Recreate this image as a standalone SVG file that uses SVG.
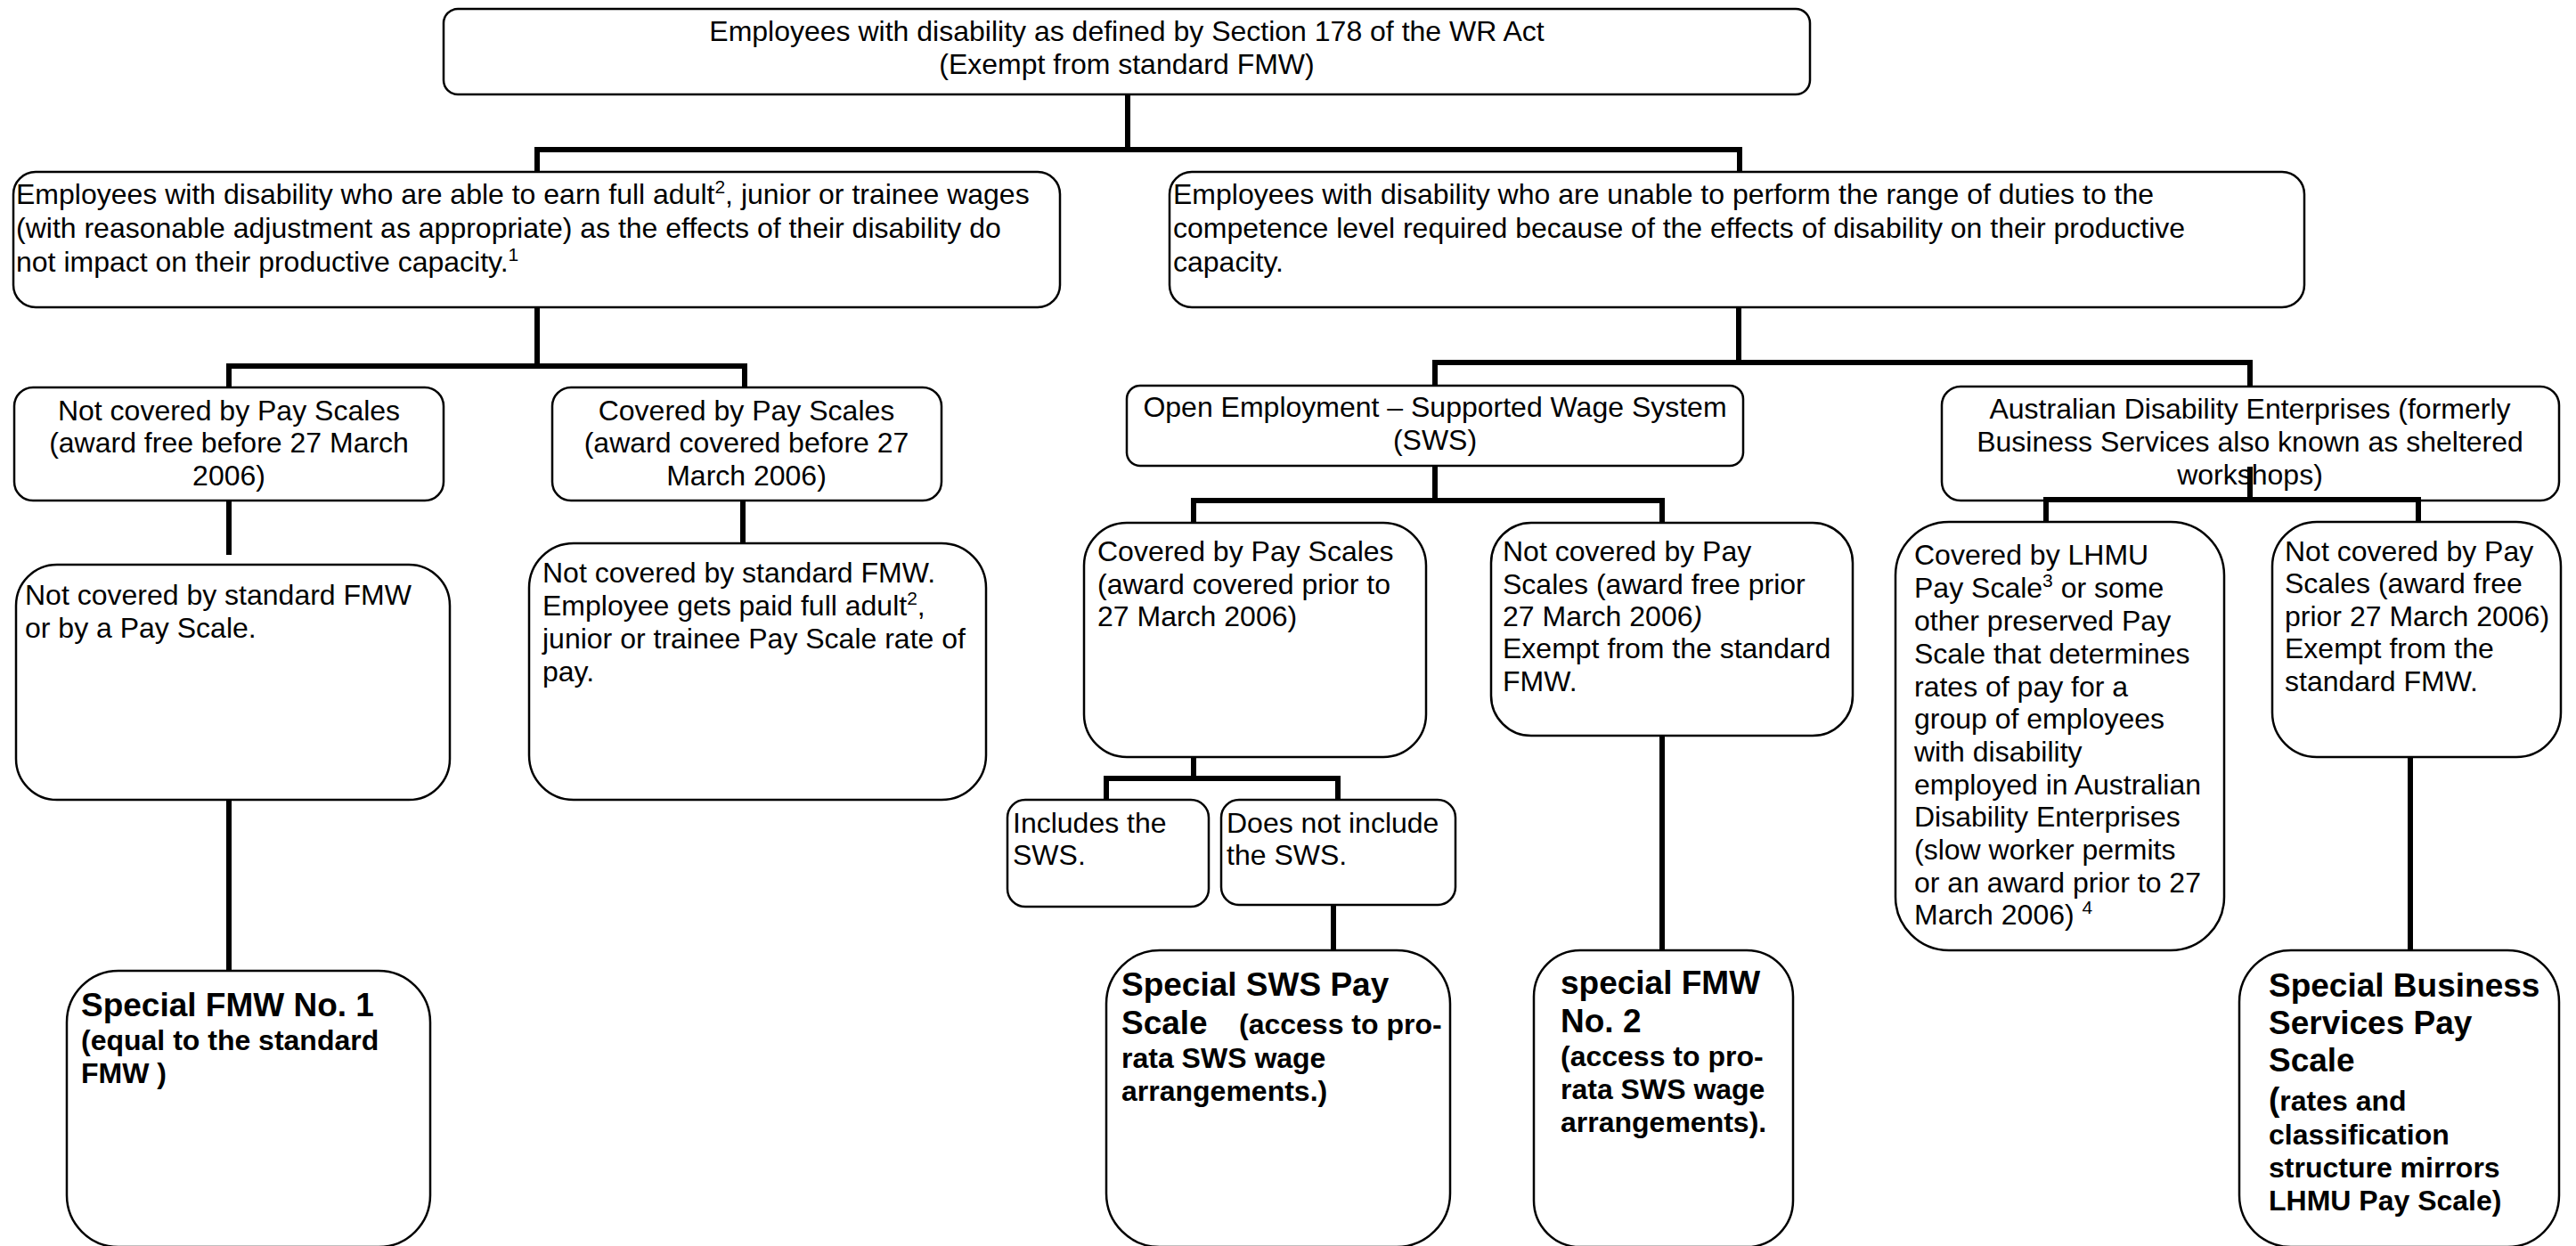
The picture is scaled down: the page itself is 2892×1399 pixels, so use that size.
<svg xmlns="http://www.w3.org/2000/svg" width="2892" height="1399" viewBox="0 0 2892 1399">
<style>
  .box { fill: #ffffff; stroke: #000000; stroke-width: 2.5; }
  .t { font-family: "Liberation Sans", Arial, sans-serif; font-size: 32px; fill: #000000; }
  .c { text-anchor: middle; }
  .b { font-weight: bold; }
  .big { font-size: 37px; }
  .sup { font-size: 21px; }
  .conn { fill: none; stroke: #000000; stroke-width: 6; stroke-linecap: butt; }
</style>
<rect x="0" y="0" width="2892" height="1399" fill="#ffffff"/>

<g id="n-root">
  <rect class="box" x="498" y="10" width="1534" height="96" rx="16"/>
  <text class="t c" x="1265" y="46">Employees with disability as defined by Section 178 of the WR Act</text>
  <text class="t c" x="1265" y="83">(Exempt from standard FMW)</text>
</g>

<g id="n-able">
  <rect class="box" x="15" y="193" width="1175" height="152" rx="25"/>
  <text class="t" x="18" y="229">Employees with disability who are able to earn full adult<tspan class="sup" dy="-12">2</tspan><tspan dy="12">, junior or trainee wages</tspan></text>
  <text class="t" x="18" y="267">(with reasonable adjustment as appropriate) as the effects of their disability do</text>
  <text class="t" x="18" y="305">not impact on their productive capacity.<tspan class="sup" dy="-12">1</tspan></text>
</g>

<g id="n-unable">
  <rect class="box" x="1313" y="193" width="1274" height="152" rx="25"/>
  <text class="t" x="1317" y="229">Employees with disability who are unable to perform the range of duties to the</text>
  <text class="t" x="1317" y="267">competence level required because of the effects of disability on their productive</text>
  <text class="t" x="1317" y="305">capacity.</text>
</g>

<g id="n-notcovered">
  <rect class="box" x="16" y="435" width="482" height="127" rx="21"/>
  <text class="t c" x="257" y="472">Not covered by Pay Scales</text>
  <text class="t c" x="257" y="508">(award free before 27 March</text>
  <text class="t c" x="257" y="545">2006)</text>
</g>

<g id="n-covered">
  <rect class="box" x="620" y="435" width="437" height="127" rx="21"/>
  <text class="t c" x="838" y="472">Covered by Pay Scales</text>
  <text class="t c" x="838" y="508">(award covered before 27</text>
  <text class="t c" x="838" y="545">March 2006)</text>
</g>

<g id="n-notstd">
  <rect class="box" x="18" y="634" width="487" height="264" rx="46"/>
  <text class="t" x="28" y="679">Not covered by standard FMW</text>
  <text class="t" x="28" y="716">or by a Pay Scale.</text>
</g>

<g id="n-fulladult">
  <rect class="box" x="594" y="610" width="513" height="288" rx="50"/>
  <text class="t" x="609" y="654">Not covered by standard FMW.</text>
  <text class="t" x="609" y="691">Employee gets paid full adult<tspan class="sup" dy="-12">2</tspan><tspan dy="12">,</tspan></text>
  <text class="t" x="609" y="728">junior or trainee Pay Scale rate of</text>
  <text class="t" x="609" y="765">pay.</text>
</g>

<g id="n-fmw1">
  <rect class="box" x="75" y="1090" width="408" height="310" rx="58"/>
  <text class="t b big" x="91" y="1141">Special FMW No. 1</text>
  <text class="t b" x="91" y="1179">(equal to the standard</text>
  <text class="t b" x="91" y="1216">FMW )</text>
</g>

<g id="n-sws">
  <rect class="box" x="1265" y="433" width="692" height="90" rx="15"/>
  <text class="t c" x="1611" y="468">Open Employment – Supported Wage System</text>
  <text class="t c" x="1611" y="505">(SWS)</text>
</g>

<g id="n-swscovered">
  <rect class="box" x="1217" y="587" width="384" height="263" rx="48"/>
  <text class="t" x="1232" y="630">Covered by Pay Scales</text>
  <text class="t" x="1232" y="667">(award covered prior to</text>
  <text class="t" x="1232" y="703">27 March 2006)</text>
</g>

<g id="n-swsnotcovered">
  <rect class="box" x="1674" y="587" width="406" height="239" rx="45"/>
  <text class="t" x="1687" y="630">Not covered by Pay</text>
  <text class="t" x="1687" y="667">Scales (award free prior</text>
  <text class="t" x="1687" y="703">27 March 2006<tspan font-style="italic">)</tspan></text>
  <text class="t" x="1687" y="739">Exempt from the standard</text>
  <text class="t" x="1687" y="776">FMW.</text>
</g>

<g id="n-includes">
  <rect class="box" x="1131" y="898" width="226" height="120" rx="20"/>
  <text class="t" x="1137" y="935">Includes the</text>
  <text class="t" x="1137" y="971">SWS.</text>
</g>

<g id="n-notinclude">
  <rect class="box" x="1371" y="898" width="263" height="118" rx="20"/>
  <text class="t" x="1377" y="935">Does not include</text>
  <text class="t" x="1377" y="971">the SWS.</text>
</g>

<g id="n-swspay">
  <rect class="box" x="1242" y="1067" width="386" height="333" rx="60"/>
  <text class="t b big" x="1259" y="1118">Special SWS Pay</text>
  <text class="t b" x="1259" y="1161"><tspan class="big">Scale</tspan><tspan x="1391">(access to pro-</tspan></text>
  <text class="t b" x="1259" y="1199">rata SWS wage</text>
  <text class="t b" x="1259" y="1236">arrangements.)</text>
</g>

<g id="n-fmw2">
  <rect class="box" x="1722" y="1067" width="291" height="333" rx="52"/>
  <text class="t b big" x="1752" y="1116">special FMW</text>
  <text class="t b big" x="1752" y="1159">No. 2</text>
  <text class="t b" x="1752" y="1197">(access to pro-</text>
  <text class="t b" x="1752" y="1234">rata SWS wage</text>
  <text class="t b" x="1752" y="1271">arrangements).</text>
</g>

<g id="n-ade">
  <rect class="box" x="2180" y="434" width="693" height="128" rx="21"/>
  <text class="t c" x="2526" y="470">Australian Disability Enterprises (formerly</text>
  <text class="t c" x="2526" y="507">Business Services also known as sheltered</text>
  <text class="t c" x="2526" y="544">workshops)</text>
</g>

<g id="n-lhmu">
  <rect class="box" x="2128" y="586" width="369" height="481" rx="60"/>
  <text class="t" x="2149" y="634">Covered by LHMU</text>
  <text class="t" x="2149" y="671">Pay Scale<tspan class="sup" dy="-12">3</tspan><tspan dy="12"> or some</tspan></text>
  <text class="t" x="2149" y="708">other preserved Pay</text>
  <text class="t" x="2149" y="745">Scale that determines</text>
  <text class="t" x="2149" y="782">rates of pay for a</text>
  <text class="t" x="2149" y="818">group of employees</text>
  <text class="t" x="2149" y="855">with disability</text>
  <text class="t" x="2149" y="892">employed in Australian</text>
  <text class="t" x="2149" y="928">Disability Enterprises</text>
  <text class="t" x="2149" y="965">(slow worker permits</text>
  <text class="t" x="2149" y="1002">or an award prior to 27</text>
  <text class="t" x="2149" y="1038">March 2006) <tspan class="sup" dy="-12">4</tspan></text>
</g>

<g id="n-adenotcovered">
  <rect class="box" x="2551" y="586" width="324" height="264" rx="50"/>
  <text class="t" x="2565" y="630">Not covered by Pay</text>
  <text class="t" x="2565" y="666">Scales (award free</text>
  <text class="t" x="2565" y="703">prior 27 March 2006)</text>
  <text class="t" x="2565" y="739">Exempt from the</text>
  <text class="t" x="2565" y="776">standard FMW.</text>
</g>

<g id="n-business">
  <rect class="box" x="2514" y="1067" width="359" height="333" rx="58"/>
  <text class="t b big" x="2547" y="1119">Special Business</text>
  <text class="t b big" x="2547" y="1161">Services Pay</text>
  <text class="t b big" x="2547" y="1203">Scale</text>
  <text class="t b" x="2547" y="1247"><tspan class="big">(</tspan>rates and</text>
  <text class="t b" x="2547" y="1285">classification</text>
  <text class="t b" x="2547" y="1322">structure mirrors</text>
  <text class="t b" x="2547" y="1359">LHMU Pay Scale)</text>
</g>

<g id="connectors">
  <path class="conn" d="M1266,106 V168 M600,168 H1956 M603,168 V193 M1953,168 V193"/>
  <path class="conn" d="M603,345 V411 M254,411 H839 M257,411 V435 M836,411 V435"/>
  <path class="conn" d="M257,562 V623"/>
  <path class="conn" d="M834,562 V610"/>
  <path class="conn" d="M257,898 V1090"/>
  <path class="conn" d="M1952,345 V407 M1608,407 H2529 M1611,407 V433 M2526,407 V434"/>
  <path class="conn" d="M1611,523 V562 M1337,562 H1869 M1340,562 V587 M1866,562 V587"/>
  <path class="conn" d="M1340,850 V874 M1239,874 H1505 M1242,874 V898 M1502,874 V898"/>
  <path class="conn" d="M1497,1016 V1067"/>
  <path class="conn" d="M1866,826 V1067"/>
  <path class="conn" d="M2526,524 V561 M2294,561 H2718 M2297,561 V586 M2715,561 V586"/>
  <path class="conn" d="M2706,850 V1067"/>
</g>
</svg>
